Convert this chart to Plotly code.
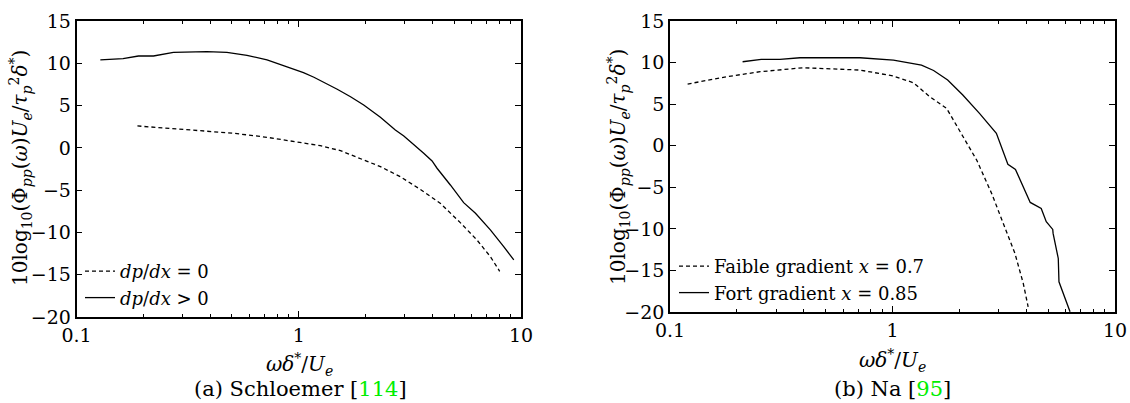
import plotly.graph_objects as go

# ---- data ----
a_pos_x = [0.128, 0.162, 0.19, 0.222, 0.273, 0.386, 0.475, 0.585, 0.72, 0.885, 1.05, 1.17, 1.29, 1.49,
           1.71, 1.96, 2.33, 2.72, 2.97, 3.23, 3.65, 3.98, 4.19, 4.81, 5.52, 6.24, 7.28, 8.36, 9.28]
a_pos_y = [10.4, 10.55, 10.86, 10.86, 11.3, 11.37, 11.3, 10.94, 10.4, 9.6, 8.89, 8.35, 7.79, 6.93,
           6.05, 5.07, 3.62, 2.12, 1.41, 0.62, -0.64, -1.55, -2.41, -4.39, -6.48, -7.73, -9.7, -11.68, -13.25]
a_zero_x = [0.188, 0.255, 0.36, 0.508, 0.72, 1.02, 1.25, 1.54, 1.89, 2.33, 2.86, 3.52, 4.33, 5.33, 6.34, 7.28, 8.02]
a_zero_y = [2.59, 2.32, 2.03, 1.73, 1.25, 0.62, 0.26, -0.33, -1.23, -2.22, -3.4, -4.9, -6.55, -8.84, -10.9, -12.86, -14.6]

b_weak_x = [0.12, 0.18, 0.254, 0.397, 0.714, 1.01, 1.24, 1.47, 1.75, 1.98, 2.39, 2.79, 3.2, 3.55, 3.87, 4.07]
b_weak_y = [7.42, 8.3, 8.9, 9.38, 9.1, 8.38, 7.58, 5.9, 4.5, 2.1, -1.73, -5.74, -9.75, -12.95, -16.56, -19.37]
b_strong_x = [0.212, 0.257, 0.312, 0.384, 0.714, 1.01, 1.35, 1.53, 1.77, 2.07, 2.46, 2.93, 3.3, 3.57,
              4.16, 4.66, 4.91, 5.25, 5.27, 5.56, 5.6, 6.28]
b_strong_y = [10.1, 10.39, 10.39, 10.58, 10.58, 10.3, 9.7, 9.05, 7.9, 6.1, 3.89, 1.49, -2.24, -2.85,
              -6.82, -7.54, -9.15, -10.07, -10.55, -13.56, -16.37, -19.98]

x_major = [0.1, 1, 10]
x_major_text = ["0.1", "1", "10"]
x_minor = [0.2, 0.3, 0.4, 0.5, 0.6, 0.7, 0.8, 0.9, 2, 3, 4, 5, 6, 7, 8, 9]

FONT = "DejaVu Serif"
ylab = ("10log<sub>10</sub>(Φ<sub><i>pp</i></sub>(<i>ω</i>)<i>U</i><sub><i>e</i></sub>/"
        "<i>τ</i><sub><i>p</i></sub><sup>2</sup><i>δ</i><sup>*</sup>)")
xlab = "<i>ωδ</i><sup>*</sup>/<i>U</i><sub><i>e</i></sub>"

fig = go.Figure()
lw = 1.3
fig.add_trace(go.Scatter(x=a_zero_x, y=a_zero_y, mode="lines", name="<i>dp</i>/<i>dx</i> = 0",
                         line=dict(color="black", width=lw, dash="4px,3px"), xaxis="x", yaxis="y", legend="legend"))
fig.add_trace(go.Scatter(x=a_pos_x, y=a_pos_y, mode="lines", name="<i>dp</i>/<i>dx</i> > 0",
                         line=dict(color="black", width=lw), xaxis="x", yaxis="y", legend="legend"))
fig.add_trace(go.Scatter(x=b_weak_x, y=b_weak_y, mode="lines", name="Faible gradient <i>x</i> = 0.7",
                         line=dict(color="black", width=lw, dash="4px,3px"), xaxis="x2", yaxis="y2", legend="legend2"))
fig.add_trace(go.Scatter(x=b_strong_x, y=b_strong_y, mode="lines", name="Fort gradient <i>x</i> = 0.85",
                         line=dict(color="black", width=lw), xaxis="x2", yaxis="y2", legend="legend2"))

W, H = 1130, 403
def xd(a, b): return [a / W, b / W]
def yd(top, bot): return [1 - bot / H, 1 - top / H]

def xax(dom, anchor):
    return dict(domain=dom, anchor=anchor, type="log", range=[-1, 1], automargin=False,
                tickvals=x_major, ticktext=x_major_text, ticks="inside", ticklen=6,
                tickcolor="black", showline=True, linecolor="black", linewidth=1.5,
                mirror="ticks", showgrid=False, zeroline=False,
                tickfont=dict(family=FONT, size=19, color="black"),
                minor=dict(tickvals=x_minor, ticks="inside", ticklen=3, tickcolor="black", showgrid=False))

def yax(dom, anchor):
    return dict(domain=dom, anchor=anchor, range=[-20, 15], dtick=5, tick0=0, automargin=False,
                ticks="inside", ticklen=6, tickcolor="black", showline=True, linecolor="black",
                linewidth=1.5, mirror="ticks", showgrid=False, zeroline=False,
                tickfont=dict(family=FONT, size=19, color="black"))

legfont = dict(family=FONT, size=18, color="black")
fig.update_layout(
    width=W, height=H, margin=dict(l=0, r=0, t=0, b=0, autoexpand=False),
    paper_bgcolor="white", plot_bgcolor="white",
    font=dict(family=FONT),
    xaxis=xax(xd(76.5, 521), "y"), yaxis=yax(yd(21, 317), "x"),
    xaxis2=xax(xd(670, 1115), "y2"), yaxis2=yax(yd(21, 312), "x2"),
    legend=dict(x=80 / W, y=1 - 316 / H, xanchor="left", yanchor="bottom", bgcolor="rgba(0,0,0,0)",
                font=legfont, itemwidth=30, tracegroupgap=0),
    legend2=dict(x=674 / W, y=1 - 311 / H, xanchor="left", yanchor="bottom", bgcolor="rgba(0,0,0,0)",
                 font=legfont, itemwidth=30, tracegroupgap=0),
    showlegend=True,
)

anns = [
    dict(text=ylab, x=21 / W, y=1 - 168 / H, textangle=-90, size=20),
    dict(text=ylab, x=618 / W, y=1 - 167 / H, textangle=-90, size=20),
    dict(text=xlab, x=299 / W, y=1 - 364 / H, size=20),
    dict(text=xlab, x=892 / W, y=1 - 360 / H, size=20),
    dict(text="(a) Schloemer [<span style='color:#00ee00'>114</span>]", x=300 / W, y=1 - 389 / H, size=21),
    dict(text="(b) Na [<span style='color:#00ee00'>95</span>]", x=892 / W, y=1 - 389 / H, size=21),
]
for a in anns:
    sz = a.pop("size")
    fig.add_annotation(xref="paper", yref="paper", showarrow=False, xanchor="center", yanchor="middle",
                       font=dict(family=FONT, size=sz, color="black"), **a)

fig.write_html("out.html", config={"displayModeBar": False},
               post_script="document.documentElement.style.margin='0';document.body.style.margin='0';"
                           "document.body.style.overflow='hidden';")
